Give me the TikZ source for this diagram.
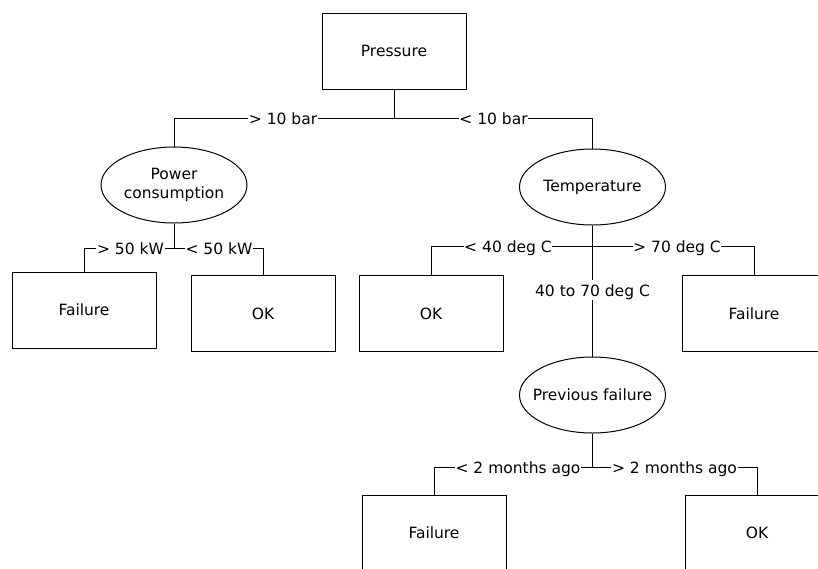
\documentclass[tikz,border=0pt]{standalone}
\usepackage{fontspec}
\setmainfont{DejaVu Sans}
\usetikzlibrary{shapes.geometric}
\begin{document}
\begin{tikzpicture}[x=1pt,y=-1pt,
  every node/.style={font=\fontsize{15.5}{18}\selectfont, text=black},
  box/.style={draw=black, line width=1pt, rectangle, minimum width=144pt, minimum height=76pt, inner sep=0pt},
  oval/.style={draw=black, line width=1pt, ellipse, minimum width=146pt, minimum height=76pt, inner sep=0pt, align=center, font=\fontsize{15.5}{19}\selectfont},
  lbl/.style={fill=white, inner sep=0.5pt, text height=13pt, text depth=1pt},
  conn/.style={draw=black, line width=1pt}]
\useasboundingbox (0,0) rectangle (818,568);
\clip (0,0) rectangle (818,568);
\fill[white] (0,0) rectangle (818,568);

% decision and leaf nodes
\node[box]  (P)   at (394,51)    {Pressure};
\node[oval] (PC)  at (174,185)   {Power\\consumption};
\node[oval] (T)   at (592.5,187) {Temperature};
\node[oval, inner xsep=-9pt] (PF)  at (592.5,395) {Previous failure};
\node[box]  (F1)  at (84,310)    {Failure};
\node[box]  (OK1) at (263,313.5) {OK};
\node[box]  (OK2) at (431,313.5) {OK};
\node[box]  (F2)  at (754,313.5) {Failure};
\node[box]  (F3)  at (434,533)   {Failure};
\node[box]  (OK3) at (757,533)   {OK};

% branch labels
\node[lbl] (la) at (283,118)   {> 10 bar};
\node[lbl] (lb) at (493.5,118) {< 10 bar};
\node[lbl] (lc) at (130.5,248) {> 50 kW};
\node[lbl] (ld) at (219,248)   {< 50 kW};
\node[lbl] (le) at (508,246)   {< 40 deg C};
\node[lbl] (lf) at (677,246)   {> 70 deg C};
\node[lbl, inner sep=2.5pt] (lg) at (592.5,290) {40 to 70 deg C};
\node[lbl] (lh) at (518,467)   {< 2 months ago};
\node[lbl] (li) at (674.5,467) {> 2 months ago};

% connectors
\draw[conn] (P.south) |- (la.east);
\draw[conn] (la.west) -| (PC.north);
\draw[conn] (P.south) |- (lb.west);
\draw[conn] (lb.east) -| (T.north);

\draw[conn] (PC.south) |- (lc.east);
\draw[conn] (lc.west) -| (F1.north);
\draw[conn] (PC.south) |- (ld.west);
\draw[conn] (ld.east) -| (OK1.north);

\draw[conn] (T.south) |- (le.east);
\draw[conn] (le.west) -| (OK2.north);
\draw[conn] (T.south) |- (lf.west);
\draw[conn] (lf.east) -| (F2.north);
\draw[conn] (T.south) -- (lg) -- (PF.north);

\draw[conn] (PF.south) |- (lh.east);
\draw[conn] (lh.west) -| (F3.north);
\draw[conn] (PF.south) |- (li.west);
\draw[conn] (li.east) -| (OK3.north);
\end{tikzpicture}
\end{document}
